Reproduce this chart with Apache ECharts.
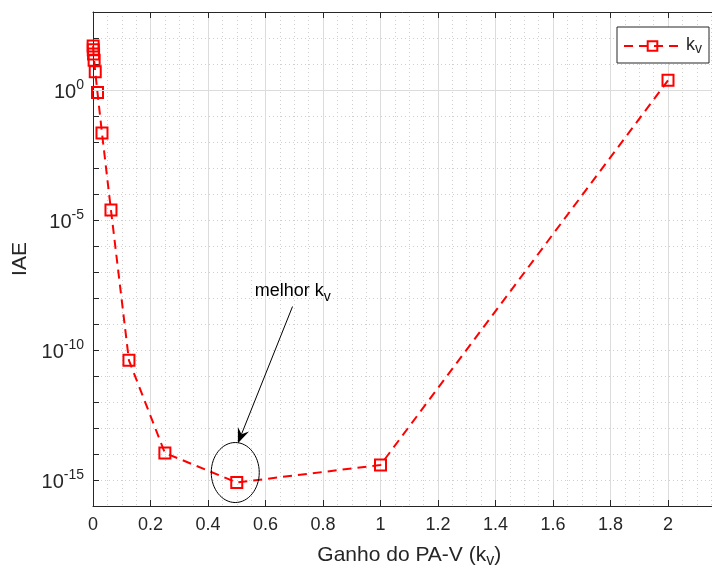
<!DOCTYPE html>
<html>
<head>
<meta charset="utf-8">
<script src="https://cdn.jsdelivr.net/npm/echarts@6/dist/echarts.min.js"></script>
<style>
html, body { margin: 0; padding: 0; background: #fff; }
#chart { width: 712px; height: 569px; }
</style>
</head>
<body>
<div id="chart"></div>
<script>
// ganho kv (halved each step) and the IAE
var kv = [0.00048828, 0.00097656, 0.0019531, 0.0039063, 0.0078125, 0.015625, 0.03125, 0.0625, 0.125, 0.25, 0.5, 1, 2];
var iae = [49, 35, 24, 14, 5.0, 0.8, 0.022, 2.4e-5, 4e-11, 1.1e-14, 8e-16, 3.8e-15, 2.35];
var majorDecades = [1, 1e-5, 1e-10, 1e-15];
var best = [0.5, 8e-16];            // melhor kv
var arrowFrom = [0.694, 4.7e-9];
var arrowTo = [0.504, 2.6e-14];
var labelAt = [0.695, 1.6e-8];

var ink = '#262626';
var font = 'Liberation Sans, Arial, Helvetica, sans-serif';

var myChart = echarts.init(document.getElementById('chart'));
var option = {
	animation: false,
	textStyle: { fontFamily: font },
	grid: { left: 93, top: 12, width: 632.5, height: 494, containLabel: false, outerBoundsMode: 'none' },
	legend: {
		data: ['kv'],
		right: 3,
		top: 27,
		backgroundColor: '#fff',
		borderColor: ink,
		borderWidth: 1,
		borderRadius: 0,
		padding: [7, 7, 7, 6],
		itemWidth: 57,
		itemHeight: 12,
		itemGap: 4,
		formatter: function () { return '{k|k}{s|v}'; },
		textStyle: {
			color: ink,
			rich: {
				k: { fontSize: 18, color: ink, lineHeight: 20, verticalAlign: 'top' },
				s: { fontSize: 14, color: ink, lineHeight: 20, verticalAlign: 'bottom', padding: [8, 0, 0, 0] }
			}
		}
	},
	xAxis: [{
		type: 'value',
		min: 0,
		max: 2.2,
		interval: 0.2,
		name: 'Ganho do PA-V (k{s|v})',
		nameLocation: 'middle',
		nameGap: 35,
		nameTextStyle: {
			fontSize: 21, color: ink, fontFamily: font,
			rich: { s: { fontSize: 16, color: ink, fontFamily: font, padding: [12, 0, 0, 0] } }
		},
		axisLine: { lineStyle: { color: ink, width: 1 } },
		axisTick: { inside: true, length: 6, lineStyle: { color: ink } },
		axisLabel: { fontSize: 18, color: ink, margin: 10 },
		splitLine: { lineStyle: { color: '#dcdcdc', width: 1 } },
		minorTick: { show: false, splitNumber: 4 },
		minorSplitLine: { show: true, lineStyle: { color: '#cfcfcf', type: [1, 3], width: 1 } }
	}, {
		type: 'value',
		position: 'top',
		min: 0,
		max: 2.2,
		interval: 0.2,
		axisLine: { lineStyle: { color: ink, width: 1 } },
		axisTick: { inside: true, length: 6, lineStyle: { color: ink } },
		axisLabel: { show: false },
		splitLine: { show: false }
	}],
	yAxis: {
		type: 'log',
		logBase: 10,
		min: 1e-16,
		max: 1e3,
		interval: 1,
		name: 'IAE',
		nameLocation: 'middle',
		nameGap: 59,
		nameTextStyle: { fontSize: 21, color: ink },
		axisLine: { show: true, lineStyle: { color: ink, width: 1 } },
		axisTick: { inside: true, length: 6, lineStyle: { color: ink } },
		axisLabel: {
			margin: 9,
			formatter: function (v) {
				var e = Math.round(Math.log10(v));
				if (e % 5 !== 0) return '';
				return '{b|10}{s|' + e + '}';
			},
			rich: {
				b: { fontSize: 20, color: ink, lineHeight: 24, verticalAlign: 'bottom' },
				s: { fontSize: 14, color: ink, lineHeight: 24, verticalAlign: 'top' }
			}
		},
		splitLine: { show: true, lineStyle: { color: '#cfcfcf', type: [1, 3], width: 1 } }
	},
	series: [{
		name: 'kv',
		type: 'line',
		data: kv.map(function (x, i) { return [x, iae[i]]; }),
		symbol: 'rect',
		symbolSize: 11,
		showAllSymbol: true,
		lineStyle: { color: '#ff0000', width: 2, type: [9, 6] },
		itemStyle: { color: 'rgba(0,0,0,0)', borderColor: '#ff0000', borderWidth: 2 },
		z: 3
	}, {
		name: 'major',
		type: 'line',
		data: [],
		silent: true,
		z: 1,
		markLine: {
			silent: true,
			symbol: ['none', 'none'],
			label: { show: false },
			lineStyle: { color: '#dcdcdc', type: 'solid', width: 1 },
			data: majorDecades.map(function (v) { return { yAxis: v }; })
		}
	}]
};
myChart.setOption(option);

// anotação: elipse em volta do melhor kv, seta e texto
var c = myChart.convertToPixel({ gridIndex: 0 }, best);
var p0 = myChart.convertToPixel({ gridIndex: 0 }, arrowFrom);
var p1 = myChart.convertToPixel({ gridIndex: 0 }, arrowTo);
var pt = myChart.convertToPixel({ gridIndex: 0 }, labelAt);
var dx = p1[0] - p0[0], dy = p1[1] - p0[1];
var len = Math.sqrt(dx * dx + dy * dy);
var ux = dx / len, uy = dy / len, nx = -uy, ny = ux;
var L = 15, W = 6;
var head = [
	[p1[0], p1[1]],
	[p1[0] - ux * L + nx * W, p1[1] - uy * L + ny * W],
	[p1[0] - ux * L * 0.65, p1[1] - uy * L * 0.65],
	[p1[0] - ux * L - nx * W, p1[1] - uy * L - ny * W]
];
myChart.setOption({
	graphic: [{
		type: 'ellipse',
		shape: { cx: c[0] - 1.5, cy: c[1] - 10, rx: 24, ry: 30 },
		style: { fill: 'none', stroke: '#000', lineWidth: 1 },
		z: 10
	}, {
		type: 'line',
		shape: { x1: p0[0], y1: p0[1], x2: p1[0] - ux * L * 0.65, y2: p1[1] - uy * L * 0.65 },
		style: { stroke: '#000', lineWidth: 1 },
		z: 10
	}, {
		type: 'polygon',
		shape: { points: head },
		style: { fill: '#000' },
		z: 10
	}, {
		type: 'text',
		x: pt[0],
		y: pt[1],
		style: {
			text: '{a|melhor k}{s|v}',
			align: 'center',
			verticalAlign: 'middle',
			rich: {
				a: { fontSize: 18, fontFamily: font, fill: '#000', lineHeight: 22, verticalAlign: 'top' },
				s: { fontSize: 14, fontFamily: font, fill: '#000', lineHeight: 22, verticalAlign: 'bottom', padding: [8, 0, 0, 0] }
			}
		},
		z: 10
	}]
});
</script>
</body>
</html>
